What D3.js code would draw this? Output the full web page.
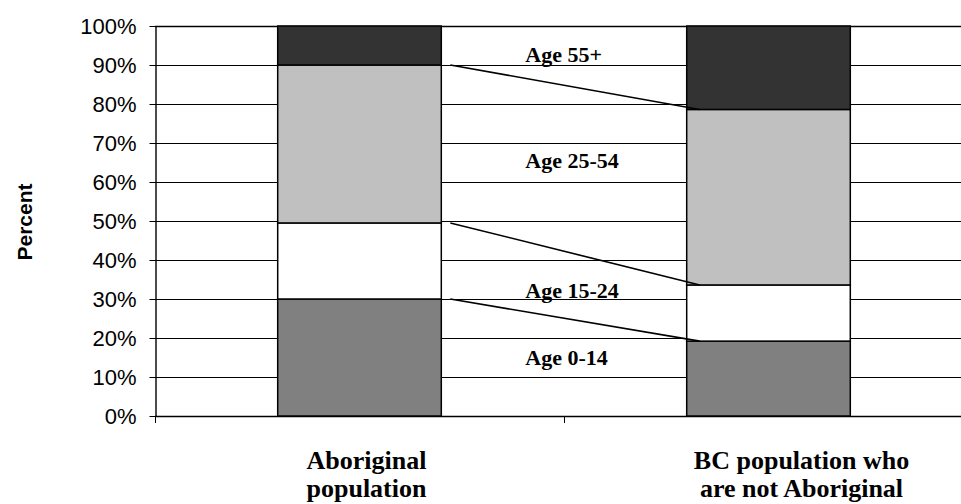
<!DOCTYPE html>
<html>
<head>
<meta charset="utf-8">
<script src="https://cdn.jsdelivr.net/npm/d3@7"></script>
<style>
  html, body { margin: 0; padding: 0; background: #fff; }
  svg { display: block; }
</style>
</head>
<body>
<svg id="chart" width="961" height="504"></svg>
<script>
// Age distribution of two BC populations (percent of each population)
const categories = [["Aboriginal", "population"], ["BC population who", "are not Aboriginal"]];
const ageGroups = ["Age 0-14", "Age 15-24", "Age 25-54", "Age 55+"];
const age0to14 = [30.0, 19.2];
const age15to24 = [19.5, 14.4];
const age25to54 = [40.5, 45.0];
const age55plus = [10.0, 21.4];
const yTicks = [0, 10, 20, 30, 40, 50, 60, 70, 80, 90, 100];
const fills = ["#808080", "#ffffff", "#c0c0c0", "#333333"];

const series = [age0to14, age15to24, age25to54, age55plus];
const rows = categories.map((c, i) => {
  const r = { key: i };
  ageGroups.forEach((g, j) => { r[g] = series[j][i]; });
  return r;
});
const stacked = d3.stack().keys(ageGroups)(rows);

const svg = d3.select("#chart");
const margin = { left: 155, top: 26, right: 973, bottom: 416 };

const x = d3.scaleBand()
  .domain(categories.map((c, i) => i))
  .range([margin.left, margin.right])
  .paddingInner(0.6)
  .paddingOuter(0.3);
const y = d3.scaleLinear().domain([0, 100]).range([margin.bottom, margin.top]);

// horizontal gridlines
svg.append("g")
  .selectAll("line")
  .data(yTicks.filter(t => t > 0))
  .join("line")
  .attr("x1", margin.left).attr("x2", margin.right)
  .attr("y1", d => Math.round(y(d)) + 0.5).attr("y2", d => Math.round(y(d)) + 0.5)
  .attr("stroke", "#000")
  .attr("stroke-width", d => d === 100 ? 1.6 : 1);

// y axis
const yAxis = svg.append("g")
  .attr("transform", `translate(${margin.left + 0.5},0)`)
  .call(d3.axisLeft(y).tickValues(yTicks).tickFormat(d => d + "%").tickSize(6).tickSizeOuter(0));
yAxis.select(".domain").attr("stroke", "#000").attr("stroke-width", 1.4);
yAxis.selectAll(".tick line").attr("stroke", "#000");
yAxis.selectAll(".tick").attr("transform", d => `translate(0,${Math.round(y(d)) + 0.5})`);
yAxis.selectAll(".tick text")
  .attr("x", -19)
  .attr("dy", "0.36em")
  .attr("fill", "#000")
  .style("font-family", "Arial, 'Liberation Sans', sans-serif")
  .style("font-size", "22px");

// x axis baseline with band separators
const sepTicks = d3.range(categories.length).map(i => margin.left + i * (margin.right - margin.left) / categories.length);
svg.append("line")
  .attr("x1", margin.left).attr("x2", margin.right)
  .attr("y1", Math.round(y(0)) + 0.5).attr("y2", Math.round(y(0)) + 0.5)
  .attr("stroke", "#000").attr("stroke-width", 1.4);
svg.append("g").selectAll("line").data(sepTicks).join("line")
  .attr("x1", d => Math.round(d) + 0.5).attr("x2", d => Math.round(d) + 0.5)
  .attr("y1", Math.round(y(0))).attr("y2", Math.round(y(0)) + 7)
  .attr("stroke", "#000");

// stacked bars
svg.append("g")
  .selectAll("g")
  .data(stacked)
  .join("g")
  .attr("fill", (d, i) => fills[i])
  .selectAll("rect")
  .data(d => d)
  .join("rect")
  .attr("x", d => x(d.data.key))
  .attr("width", x.bandwidth())
  .attr("y", d => y(d[1]))
  .attr("height", d => y(d[0]) - y(d[1]))
  .attr("stroke", "#000")
  .attr("stroke-width", 1.5);

// connector lines between the two bars at each segment boundary
const bounds = stacked.slice(0, 3).map(s => [s[0][1], s[1][1]]);
svg.append("g").selectAll("line").data(bounds).join("line")
  .attr("x1", x(0) + x.bandwidth() + 9)
  .attr("x2", x(1) + 13)
  .attr("y1", d => y(d[0]))
  .attr("y2", d => y(d[1]))
  .attr("stroke", "#000")
  .attr("stroke-width", 1.6);

// age group labels between the bars
const labelX = x(0) + x.bandwidth() + 84;
const labelY = [
  y(age0to14[1]) + 24,
  y(age0to14[1] + age15to24[1]) + 13,
  (y(100 - age55plus[1]) + y(age0to14[1] + age15to24[1])) / 2 - 29,
  y(90) - 3
];
svg.append("g").selectAll("text").data(ageGroups).join("text")
  .attr("x", labelX)
  .attr("y", (d, i) => labelY[i])
  .text(d => d)
  .attr("fill", "#000")
  .style("font-family", "'Times New Roman', 'Liberation Serif', serif")
  .style("font-weight", "bold")
  .style("font-size", "22px");

// category labels below the axis
const catOffset = [7, 33];
const catG = svg.append("g");
categories.forEach((lines, i) => {
  const t = catG.append("text")
    .attr("text-anchor", "middle")
    .attr("fill", "#000")
    .style("font-family", "'Times New Roman', 'Liberation Serif', serif")
    .style("font-weight", "bold")
    .style("font-size", "26px");
  lines.forEach((ln, k) => {
    t.append("tspan")
      .attr("x", x(i) + x.bandwidth() / 2 + catOffset[i])
      .attr("y", 469 + k * 28)
      .text(ln);
  });
});

// y axis title
svg.append("text")
  .attr("transform", `translate(32,${(margin.top + margin.bottom) / 2 + 1}) rotate(-90)`)
  .attr("text-anchor", "middle")
  .attr("fill", "#000")
  .style("font-family", "Arial, 'Liberation Sans', sans-serif")
  .style("font-weight", "bold")
  .style("font-size", "21px")
  .text("Percent");
</script>
</body>
</html>
